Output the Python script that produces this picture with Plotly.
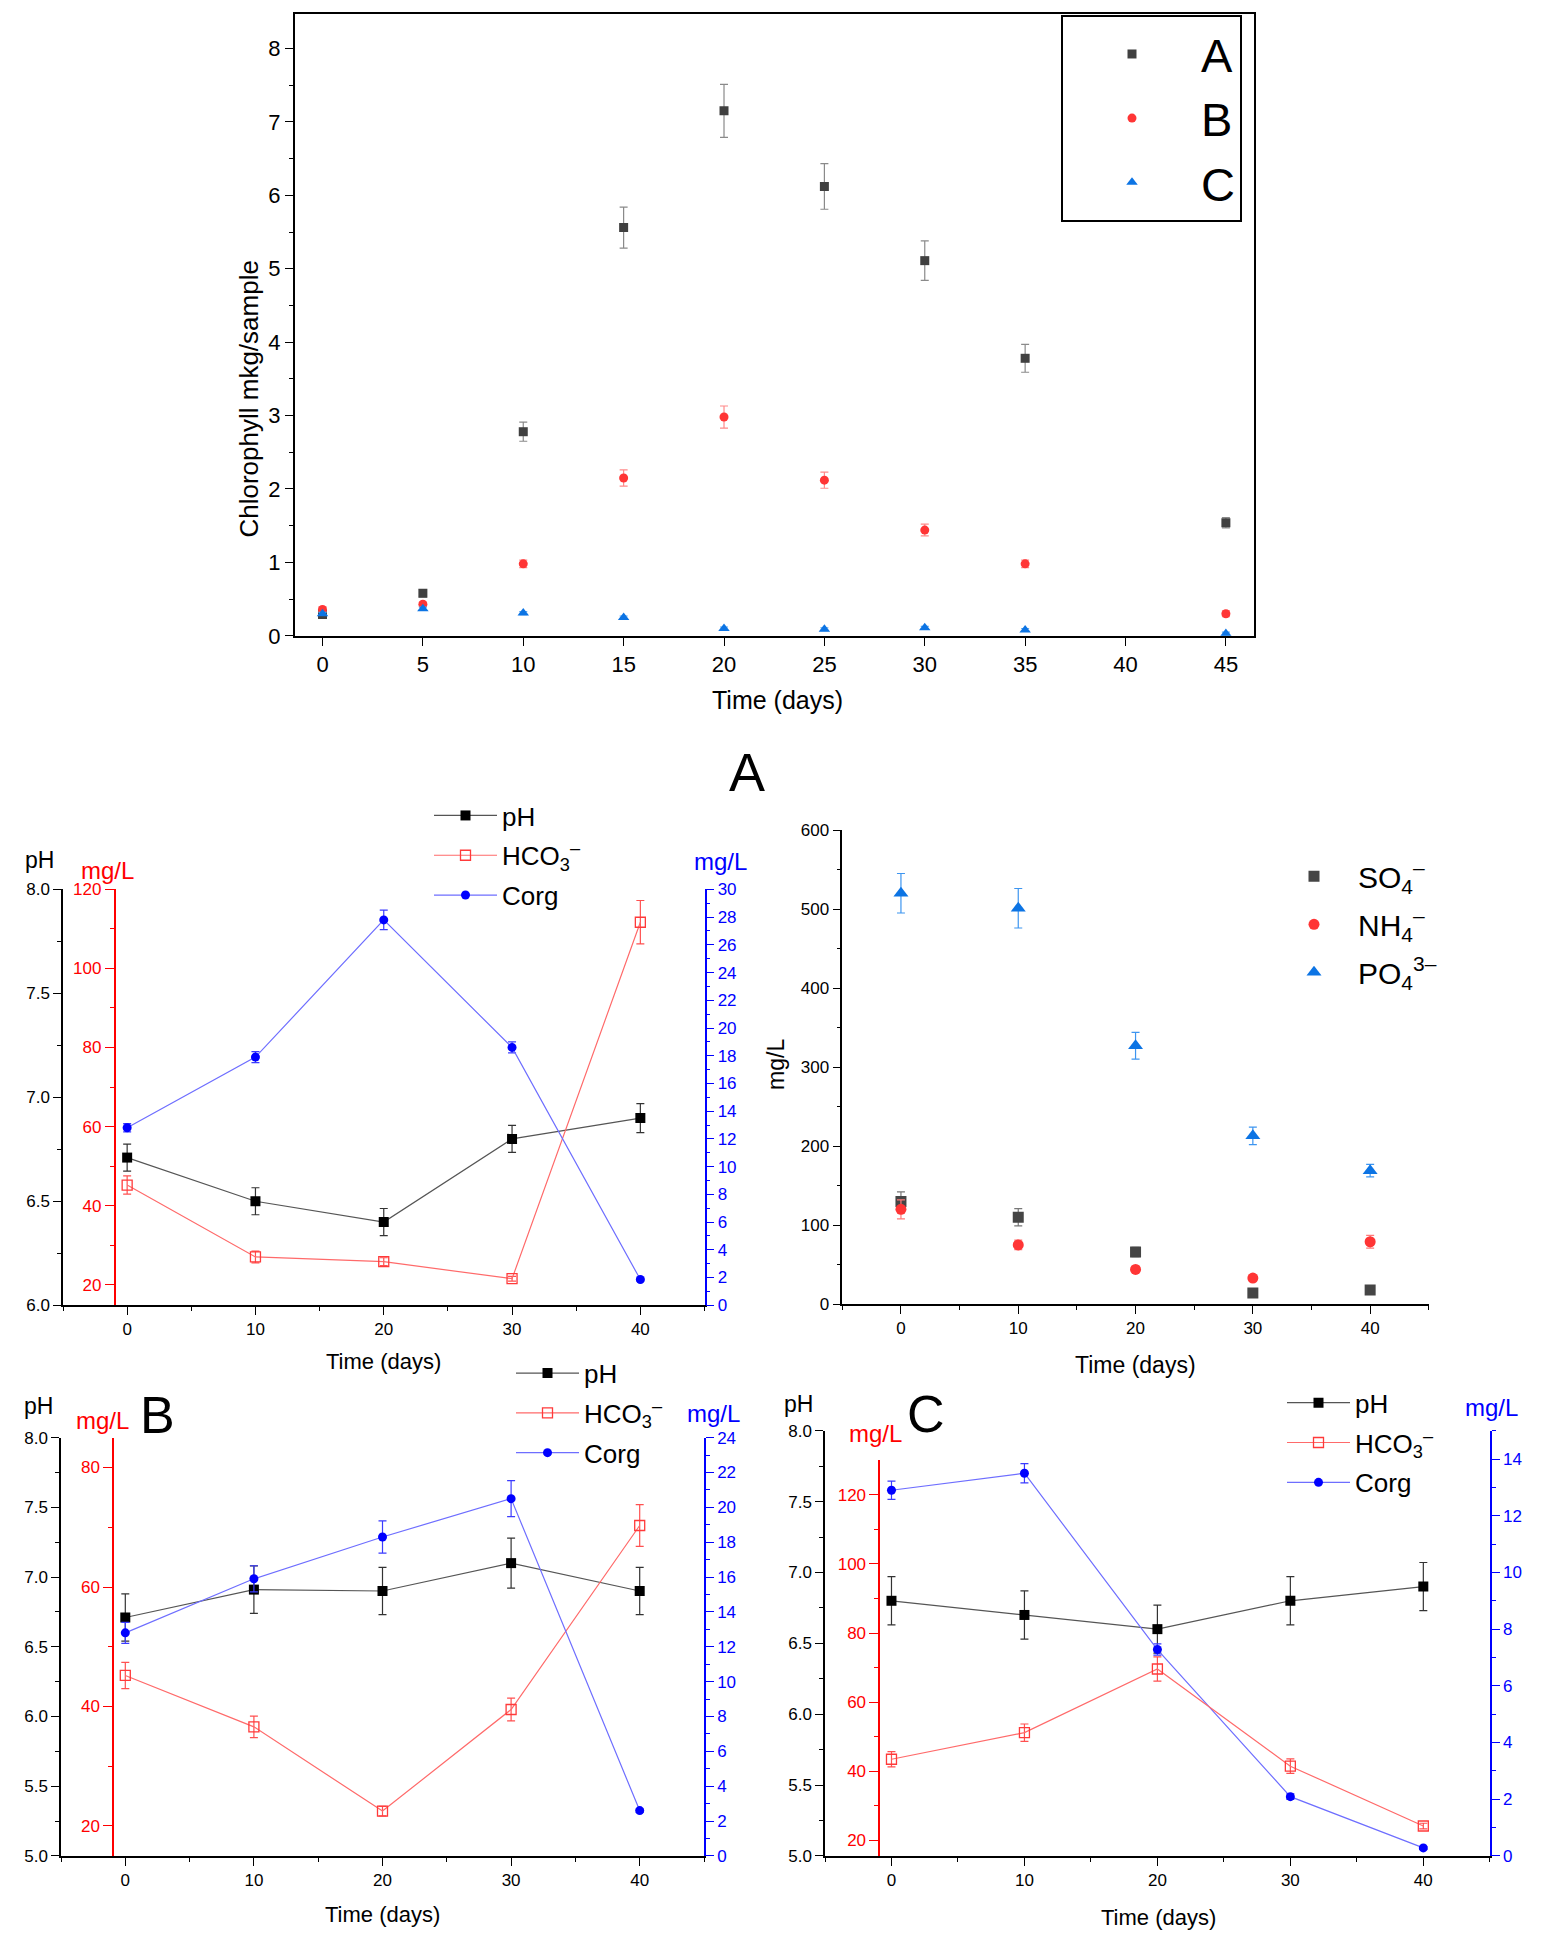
import plotly.graph_objects as go

# figure size in px, everything below is placed in paper coords
W, H = 1542, 1945

def fx(p):
  return p / W

def fy(p):
  return 1 - p / H

#
# Data: chlorophyll (top chart)
days_chl = [0, 5, 10, 15, 20, 25, 30, 35, 45]
chl_a = [0.29, 0.58, 2.78, 5.56, 7.15, 6.12, 5.11, 3.78, 1.54]
chl_a_err = [0.03, 0.05, 0.13, 0.28, 0.36, 0.31, 0.27, 0.19, 0.07]
chl_b = [0.36, 0.43, 0.98, 2.15, 2.98, 2.12, 1.44, 0.98, 0.30]
chl_b_err = [0.03, 0.03, 0.05, 0.11, 0.15, 0.11, 0.08, 0.05, 0.04]
chl_c = [0.30, 0.37, 0.31, 0.25, 0.10, 0.09, 0.11, 0.08, 0.03]
chl_c_err = [0.02, 0.02, 0.02, 0.02, 0.02, 0.02, 0.02, 0.02, 0.02]

#
# Data: water chemistry panels
days = [0, 10, 20, 30, 40]

ph_a = [6.71, 6.50, 6.40, 6.80, 6.90]
ph_a_err = [0.065, 0.065, 0.065, 0.065, 0.07]
hco3_a = [45.2, 27.0, 25.8, 21.5, 111.7]
hco3_a_err = [2.3, 1.5, 1.0, 0.6, 5.5]
corg_a = [12.8, 17.9, 27.8, 18.6, 1.85]
corg_a_err = [0.3, 0.4, 0.7, 0.4, 0.1]

so4 = [130, 110, 66, 14, 18]
so4_err = [12, 11, 6, 3, 3]
nh4 = [120, 75, 44, 33, 79]
nh4_err = [12, 6, 4, 3, 8]
po4 = [520, 501, 327, 213, 169]
po4_err = [25, 25, 17, 11, 8]

ph_b = [6.71, 6.91, 6.90, 7.10, 6.90]
ph_b_err = [0.17, 0.17, 0.17, 0.18, 0.17]
hco3_b = [45.2, 36.6, 22.5, 39.5, 70.3]
hco3_b_err = [2.2, 1.8, 0.8, 1.9, 3.5]
corg_b = [12.8, 15.9, 18.3, 20.5, 2.6]
corg_b_err = [0.6, 0.75, 0.93, 1.03, 0.1]

ph_c = [6.80, 6.70, 6.60, 6.80, 6.90]
ph_c_err = [0.17, 0.17, 0.17, 0.17, 0.17]
hco3_c = [43.5, 51.2, 69.6, 41.5, 24.2]
hco3_c_err = [2.2, 2.5, 3.5, 2.1, 0.8]
corg_c = [12.9, 13.5, 7.28, 2.09, 0.28]
corg_c_err = [0.32, 0.34, 0.2, 0.1, 0.05]

FONT = "Liberation Sans, Arial, sans-serif"
GRAY = "#404040"
RED = "#ff3535"
BLUE = "#0c74e4"

fig = go.Figure()

#
# Top chart: chlorophyll scatter with error bars
def chl_trace(name, y, err, symbol, color, ecolor, size):
  return go.Scatter(
    x=days_chl, y=y, name=name, mode="markers",
    marker=dict(symbol=symbol, color=color, size=size),
    error_y=dict(type="data", array=err, color=ecolor, thickness=1.2, width=4),
    xaxis="x", yaxis="y", legend="legend")

fig.add_trace(chl_trace("A", chl_a, chl_a_err, "square", GRAY, "#8a8a8a", 9))
fig.add_trace(chl_trace("B", chl_b, chl_b_err, "circle", RED, "#ff8a8a", 9))
fig.add_trace(chl_trace("C", chl_c, chl_c_err, "triangle-up", BLUE, "#5aa8f0", 10))

#
# pH / HCO3 / Corg panels
def panel(ph, ph_err, hco3, hco3_err, corg, corg_err, xa, y_ph, y_red, y_blue, leg):
  fig.add_trace(go.Scatter(
    x=days, y=ph, name="pH", mode="lines+markers", legend=leg, legendgroup=leg + "ph",
    line=dict(color="#555555", width=1.2),
    marker=dict(symbol="square", color="black", size=10),
    error_y=dict(type="data", array=ph_err, color="#333333", thickness=1.2, width=4),
    xaxis=xa, yaxis=y_ph))
  fig.add_trace(go.Scatter(
    x=days, y=hco3, name="HCO<sub>3</sub><sup>\u2013</sup>", mode="lines+markers",
    legend=leg, legendgroup=leg + "hco3",
    line=dict(color="#ff6a6a", width=1.2),
    marker=dict(symbol="square-open", color="#ff3a3a", size=10, line=dict(width=1.3)),
    error_y=dict(type="data", array=hco3_err, color="#ff5050", thickness=1.2, width=4),
    xaxis=xa, yaxis=y_red))
  fig.add_trace(go.Scatter(
    x=days, y=corg, name="Corg", mode="lines+markers", legend=leg, legendgroup=leg + "corg",
    line=dict(color="#6e6eff", width=1.2),
    marker=dict(symbol="circle", color="#0000ff", size=9),
    error_y=dict(type="data", array=corg_err, color="#3b3bff", thickness=1.2, width=4),
    xaxis=xa, yaxis=y_blue))

panel(ph_a, ph_a_err, hco3_a, hco3_a_err, corg_a, corg_a_err, "x2", "y2", "y3", "y4", "legend2")
panel(ph_b, ph_b_err, hco3_b, hco3_b_err, corg_b, corg_b_err, "x4", "y6", "y7", "y8", "legend4")
panel(ph_c, ph_c_err, hco3_c, hco3_c_err, corg_c, corg_c_err, "x5", "y9", "y10", "y11", "legend5")

#
# SO4 / NH4 / PO4 panel
def ion_trace(name, y, err, symbol, color, ecolor, size):
  return go.Scatter(
    x=days, y=y, name=name, mode="markers", legend="legend3", legendgroup=name,
    marker=dict(symbol=symbol, color=color, size=size),
    error_y=dict(type="data", array=err, color=ecolor, thickness=1.2, width=4),
    xaxis="x3", yaxis="y5")

fig.add_trace(ion_trace("SO<sub>4</sub><sup>\u2013</sup>", so4, so4_err, "square", "#454545", "#777777", 11))
fig.add_trace(ion_trace("NH<sub>4</sub><sup>\u2013</sup>", nh4, nh4_err, "circle", RED, "#ff7a7a", 11))
fig.add_trace(ion_trace("PO<sub>4</sub><sup>3\u2013</sup>", po4, po4_err, "triangle-up", BLUE, "#3d95f0", 13))

#
# Axes
def xax(left, right, anchor, rng, dtick, minor=None, lw=1.5, fs=17, tlen=8):
  d = dict(domain=[fx(left), fx(right)], anchor=anchor, range=rng, dtick=dtick, tick0=0,
           showgrid=False, zeroline=False, showline=True, linecolor="black", linewidth=lw,
           ticks="outside", ticklen=tlen, tickwidth=1.3, tickcolor="black",
           tickfont=dict(family=FONT, size=fs, color="black"))
  if minor:
    d["minor"] = dict(dtick=minor, tick0=0, ticks="outside", ticklen=4, tickcolor="black")
  return d

def yax(rng, dtick, minor, color="black", domain=None, anchor=None, overlaying=None,
        position=None, side="left", tickvals=None, fmt=None, lw=1.5, fs=17, tlen=8):
  d = dict(range=rng, dtick=dtick, tick0=0, side=side,
           showgrid=False, zeroline=False, showline=True, linecolor=color, linewidth=lw,
           ticks="outside", ticklen=tlen, tickwidth=1.3, tickcolor=color,
           tickfont=dict(family=FONT, size=fs, color=color),
           minor=dict(dtick=minor, tick0=0, ticks="outside", ticklen=tlen // 2, tickcolor=color))
  if domain:
    d["domain"] = domain
  if anchor:
    d["anchor"] = anchor
  if overlaying:
    d["overlaying"] = overlaying
  if position is not None:
    d["position"] = position
  if tickvals:
    d["tickvals"] = tickvals
  if fmt:
    d["tickformat"] = fmt
  return d

fig.update_layout(
  # top chart
  xaxis=dict(xax(295, 1254, "y", [-1.37, 46.4], 5, lw=2, fs=22, tlen=8), mirror=True),
  yaxis=dict(yax([0, 8.47], 1, 0.5, domain=[fy(634), fy(5)], anchor="x", lw=2, fs=22), mirror=True),
  # panel A
  xaxis2=xax(63, 704.5, "y2", [-5, 45], 10, minor=5),
  yaxis2=yax([6, 8], 0.5, 0.25, domain=[fy(1311), fy(890.5)], anchor="x2", fmt=".1f"),
  yaxis3=yax([14.8, 120], 20, 10, color="red", overlaying="y2", anchor="free",
             position=fx(114.5), tickvals=[20, 40, 60, 80, 100, 120], tlen=9),
  yaxis4=yax([0, 30], 2, 1, color="blue", overlaying="y2", anchor="x2", side="right"),
  # SO4 panel
  xaxis3=xax(842.3, 1428.8, "y5", [-5, 45], 10, minor=5),
  yaxis5=yax([0, 600], 100, 50, domain=[fy(1310), fy(830.4)], anchor="x3"),
  # panel B
  xaxis4=xax(61, 704, "y6", [-5, 45], 10, minor=5),
  yaxis6=yax([5, 8], 0.5, 0.25, domain=[fy(1868), fy(1445)], anchor="x4", fmt=".1f"),
  yaxis7=yax([15, 85], 20, 10, color="red", overlaying="y6", anchor="free",
             position=fx(113), tickvals=[20, 40, 60, 80], tlen=9),
  yaxis8=yax([0, 24], 2, 1, color="blue", overlaying="y6", anchor="x4", side="right"),
  # panel C
  xaxis5=xax(825, 1489.8, "y9", [-5, 45], 10, minor=5),
  yaxis9=yax([5, 8], 0.5, 0.25, domain=[fy(1868), fy(1438)], anchor="x5", fmt=".1f"),
  yaxis10=yax([15.57, 129.9], 20, 10, color="red", domain=[fy(1868), fy(1468)],
              anchor="free", position=fx(879.2), tickvals=[20, 40, 60, 80, 100, 120], tlen=9),
  yaxis11=yax([0, 15], 2, 1, color="blue", overlaying="y9", anchor="x5", side="right"),
)

#
# Legends
fig.update_layout(
  legend=dict(x=fx(1061), y=fy(6), xanchor="left", yanchor="top",
              bordercolor="black", borderwidth=2, bgcolor="white", itemwidth=128,
              font=dict(family=FONT, size=47, color="black")),
  legend2=dict(x=fx(429), y=fy(792), xanchor="left", yanchor="top", itemwidth=63,
               tracegroupgap=3, bgcolor="rgba(0,0,0,0)",
               font=dict(family=FONT, size=26, color="black")),
  legend3=dict(x=fx(1270), y=fy(851), xanchor="left", yanchor="top", itemwidth=78,
               tracegroupgap=6, bgcolor="rgba(0,0,0,0)",
               font=dict(family=FONT, size=30, color="black")),
  legend4=dict(x=fx(511), y=fy(1356), xanchor="left", yanchor="top", itemwidth=63,
               tracegroupgap=3, bgcolor="rgba(0,0,0,0)",
               font=dict(family=FONT, size=26, color="black")),
  legend5=dict(x=fx(1282), y=fy(1386), xanchor="left", yanchor="top", itemwidth=63,
               tracegroupgap=3, bgcolor="rgba(0,0,0,0)",
               font=dict(family=FONT, size=26, color="black")),
)

#
# Titles and panel labels
def label(text, px, py, size, color="black", angle=0, family=FONT):
  fig.add_annotation(text=text, x=fx(px), y=fy(py), xref="paper", yref="paper",
                     xanchor="center", yanchor="middle", showarrow=False, textangle=angle,
                     font=dict(family=family, size=size, color=color))

label("Chlorophyll mkg/sample", 249, 395, 26, angle=-90)
label("Time (days)", 777, 699, 25)
label("A", 747, 772, 54)

label("pH", 39, 861, 23)
label("mg/L", 107, 871, 24, color="red")
label("mg/L", 720, 862, 24, color="blue")
label("Time (days)", 383, 1368, 22)

label("mg/L", 776, 1068, 23, angle=-90)
label("Time (days)", 1135, 1372, 23)

label("pH", 38, 1413, 23)
label("mg/L", 102, 1428, 24, color="red")
label("B", 157, 1422, 52)
label("mg/L", 713, 1421, 24, color="blue")
label("Time (days)", 382, 1927, 22)

label("pH", 798, 1411, 23)
label("mg/L", 875, 1441, 24, color="red")
label("C", 926, 1421, 52)
label("mg/L", 1491, 1415, 24, color="blue")
label("Time (days)", 1158, 1930, 22)

fig.update_layout(width=W, height=H, margin=dict(l=0, r=0, t=0, b=0),
                  paper_bgcolor="white", plot_bgcolor="rgba(0,0,0,0)",
                  showlegend=True)

# the page body has a default 8px margin, drop it so the figure fills the window
fig.write_html("out.html", config={"displayModeBar": False},
               post_script="document.body.style.margin='0';document.body.style.overflow='hidden';")
